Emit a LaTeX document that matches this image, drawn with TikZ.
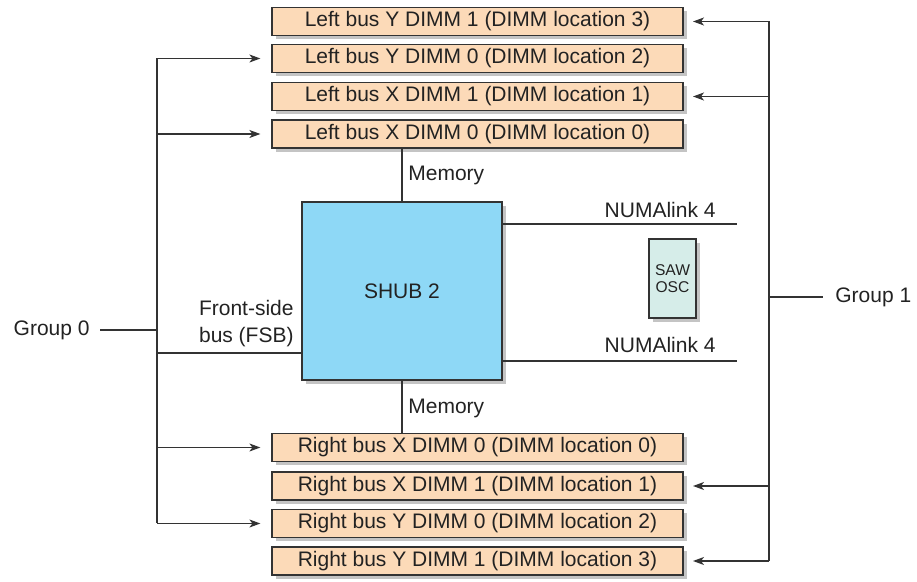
\documentclass[tikz,border=0pt]{standalone}
\usepackage{fontspec}
\setmainfont{Liberation Sans}
\usetikzlibrary{arrows.meta,shadows}
\definecolor{dimmfill}{HTML}{FCDAB8}
\definecolor{shubfill}{HTML}{8ED8F6}
\definecolor{sawfill}{HTML}{D6EDE9}
\definecolor{linec}{HTML}{333333}
\definecolor{shadowc}{HTML}{C4C4C4}
\definecolor{textc}{HTML}{222222}
\begin{document}
\begin{tikzpicture}[x=0.5pt,y=-0.5pt,
  every node/.style={text=textc,font=\fontsize{10.5}{12}\selectfont},
  boxshadow/.style={drop shadow={shadow xshift=2pt,shadow yshift=-2pt,fill=shadowc,opacity=1}},
  dimm/.style={draw=linec,line width=0.6pt,fill=dimmfill,minimum width=205.5pt,minimum height=14pt,inner sep=0pt,boxshadow},
  shubbox/.style={draw=linec,line width=0.6pt,fill=shubfill,minimum width=100pt,minimum height=89pt,inner sep=0pt,boxshadow},
  sawbox/.style={draw=linec,line width=0.6pt,fill=sawfill,minimum width=23.5pt,minimum height=39.5pt,inner sep=0pt,boxshadow,align=center,font=\fontsize{7.8}{8.4}\selectfont},
  wire/.style={draw=linec,line width=0.6pt},
  arr/.style={wire,-{Stealth[length=5.5pt,width=4pt,inset=1.5pt]}},
  larr/.style={arr,shorten >=5.5pt},
  lbl/.style={inner sep=0pt}
]
\useasboundingbox (0,0) rectangle (917,582);
% DIMMs top
\node[dimm] (d1) at (477.5,21.5) {Left bus Y DIMM 1 (DIMM location 3)};
\node[dimm] (d2) at (477.5,58.5) {Left bus Y DIMM 0 (DIMM location 2)};
\node[dimm] (d3) at (477.5,96.5) {Left bus X DIMM 1 (DIMM location 1)};
\node[dimm] (d4) at (477.5,134) {Left bus X DIMM 0 (DIMM location 0)};
% DIMMs bottom
\node[dimm] (r1) at (477.5,447.5) {Right bus X DIMM 0 (DIMM location 0)};
\node[dimm] (r2) at (477.5,486) {Right bus X DIMM 1 (DIMM location 1)};
\node[dimm] (r3) at (477.5,523.5) {Right bus Y DIMM 0 (DIMM location 2)};
\node[dimm] (r4) at (477.5,561) {Right bus Y DIMM 1 (DIMM location 3)};
% SHUB
\node[shubbox] (shub) at (402,291) {SHUB 2};
% SAW OSC
\node[sawbox] (saw) at (672.5,278.5) {SAW\\OSC};
% Memory lines
\draw[wire] (shub.north) -- (shub.north |- d4.south);
\draw[wire] (shub.south) -- (shub.south |- r1.north);
\node[lbl,anchor=west] (mem1) at (408,175) {Memory};
\node[lbl,anchor=west] (mem2) at (408,408) {Memory};
% NUMAlink
\coordinate (n1) at (737,224);
\coordinate (n2) at (737,361);
\draw[wire] (shub.east |- n1) -- (n1);
\draw[wire] (shub.east |- n2) -- (n2);
\node[lbl,anchor=east] (nl1) at (716,210) {NUMAlink 4};
\node[lbl,anchor=east] (nl2) at (716,345) {NUMAlink 4};
% Group 0 bus
\coordinate (lt) at (157,58.5);
\coordinate (lb) at (157,523.5);
\coordinate (g0) at (157,330);
\coordinate (fsb) at (157,353);
\draw[wire] (lt) -- (lb);
\draw[larr] (lt) -- (d2.west);
\draw[larr] (d4.west -| lt) -- (d4.west);
\draw[larr] (r1.west -| lt) -- (r1.west);
\draw[larr] (lb) -- (r3.west);
\draw[wire] (fsb) -- (shub.west |- fsb);
\node[lbl,anchor=east] (g0l) at (90,330) {Group 0};
\draw[wire] (100,330) -- (g0);
\node[lbl,anchor=east,align=right,font=\fontsize{10.5}{13.5}\selectfont] (fsbl) at (294,323.5) {Front-side\\bus (FSB)};
% Group 1 bus
\coordinate (rt) at (769,21.5);
\coordinate (rb) at (769,561);
\coordinate (g1) at (769,297);
\draw[wire] (rt) -- (rb);
\draw[arr] (rt) -- (693,21.5);
\draw[arr] (769,96.5) -- (693,96.5);
\draw[arr] (769,486) -- (693,486);
\draw[arr] (rb) -- (693,561);
\draw[wire] (g1) -- (823,297);
\node[lbl,anchor=west] (g1l) at (835,297) {Group 1};
\end{tikzpicture}
\end{document}
